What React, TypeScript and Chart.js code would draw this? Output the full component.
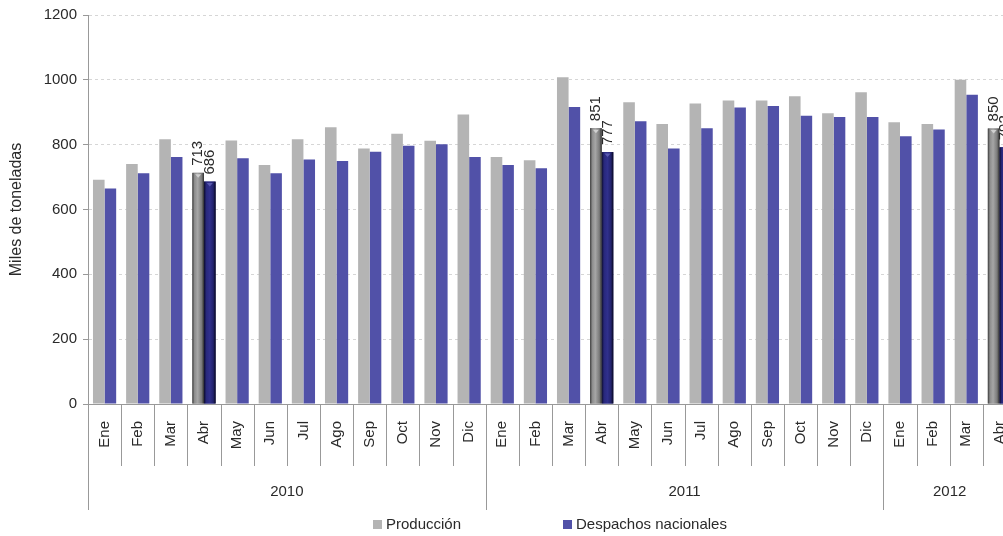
import React, { useEffect, useRef } from 'react';
import { Chart, registerables } from 'chart.js';

Chart.register(...registerables);

// ---- data ----
const monthLabels = [
  'Ene', 'Feb', 'Mar', 'Abr', 'May', 'Jun', 'Jul', 'Ago', 'Sep', 'Oct', 'Nov', 'Dic',
  'Ene', 'Feb', 'Mar', 'Abr', 'May', 'Jun', 'Jul', 'Ago', 'Sep', 'Oct', 'Nov', 'Dic',
  'Ene', 'Feb', 'Mar', 'Abr',
];
const yearLabels = ['2010', '2011', '2012'];
const yearMonthCounts = [12, 12, 4];

const produccion = [
  692, 740, 817, 713, 813, 737, 817, 854, 788, 834, 812, 893,
  762, 752, 1008, 851, 931, 864, 927, 936, 936, 949, 897, 962,
  869, 864, 1000, 850,
];
const despachos = [
  665, 712, 762, 686, 758, 712, 754, 750, 778, 797, 801, 762,
  737, 727, 916, 777, 872, 788, 851, 915, 919, 889, 885, 885,
  826, 847, 954, 792,
];
const highlightedIdx = [3, 15, 27];

const seriesNames = ['Producción', 'Despachos nacionales'];
const yAxisTitle = 'Miles de toneladas';
const yMin = 0;
const yMax = 1200;
const yStep = 200;

const FONT = '"Liberation Sans", Arial, sans-serif';
const GRAY = '#b4b4b4';
const BLUE = '#5151a8';
const TEXT = '#2a2a2a';
const AXIS = '#999999';

const decorPlugin = {
  id: 'decor',
  afterDatasetsDraw(chart: any) {
    const { ctx } = chart;
    ctx.save();
    [0, 1].forEach((di) => {
      const meta = chart.getDatasetMeta(di);
      highlightedIdx.forEach((i) => {
        const el = meta.data[i];
        if (!el) return;
        const { x, y, base, width } = el.getProps(['x', 'y', 'base', 'width'], true);
        const left = x - width / 2;
        const right = x + width / 2;
        const g = ctx.createLinearGradient(left, 0, right, 0);
        if (di === 0) {
          g.addColorStop(0, '#3a3a3a');
          g.addColorStop(0.18, '#8c8c8c');
          g.addColorStop(0.45, '#a6a6a6');
          g.addColorStop(0.8, '#7a7a7a');
          g.addColorStop(1, '#2e2e2e');
        } else {
          g.addColorStop(0, '#0c0c2c');
          g.addColorStop(0.2, '#28287c');
          g.addColorStop(0.5, '#30308c');
          g.addColorStop(0.8, '#22226c');
          g.addColorStop(1, '#07071c');
        }
        ctx.fillStyle = g;
        ctx.fillRect(left, y, width, base - y);
        // small top marker
        ctx.fillStyle = di === 0 ? '#d0d0d0' : '#5a5ab0';
        ctx.beginPath();
        ctx.moveTo(x - 3, y + 1.5);
        ctx.lineTo(x + 3, y + 1.5);
        ctx.lineTo(x, y + 5);
        ctx.closePath();
        ctx.fill();
        // value label
        const v = chart.data.datasets[di].data[i];
        ctx.save();
        ctx.translate(x, y - 7);
        ctx.rotate(-Math.PI / 2);
        ctx.font = `15px ${FONT}`;
        ctx.fillStyle = TEXT;
        ctx.textAlign = 'left';
        ctx.textBaseline = 'middle';
        ctx.fillText(String(v), 0, 0);
        ctx.restore();
      });
    });
    ctx.restore();
  },
  afterDraw(chart: any) {
    const { ctx, chartArea } = chart;
    const x = chart.scales.x;
    const bottom = chartArea.bottom;
    const n = monthLabels.length;
    const step = x.getPixelForValue(1) - x.getPixelForValue(0);
    const yearStarts = new Set<number>();
    let acc = 0;
    yearMonthCounts.forEach((c) => {
      yearStarts.add(acc);
      acc += c;
    });
    ctx.save();
    ctx.strokeStyle = AXIS;
    ctx.lineWidth = 1;
    for (let i = 0; i <= n; i++) {
      const bx = Math.round(x.getPixelForValue(i) - step / 2) + 0.5;
      const len = yearStarts.has(i) || i === n ? 106 : 62;
      ctx.beginPath();
      ctx.moveTo(bx, bottom);
      ctx.lineTo(bx, bottom + len);
      ctx.stroke();
    }
    // month labels
    ctx.font = `15px ${FONT}`;
    ctx.fillStyle = TEXT;
    for (let i = 0; i < n; i++) {
      ctx.save();
      ctx.translate(x.getPixelForValue(i), bottom + 17);
      ctx.rotate(-Math.PI / 2);
      ctx.textAlign = 'right';
      ctx.textBaseline = 'middle';
      ctx.fillText(monthLabels[i], 0, 0);
      ctx.restore();
    }
    // year labels
    ctx.textAlign = 'center';
    ctx.textBaseline = 'middle';
    let start = 0;
    yearLabels.forEach((yl, k) => {
      const end = start + yearMonthCounts[k] - 1;
      const cx = (x.getPixelForValue(start) + x.getPixelForValue(end)) / 2;
      ctx.fillText(yl, cx, bottom + 88);
      start = end + 1;
    });
    // legend
    const items = [
      { label: seriesNames[0], color: GRAY, bx: 373 },
      { label: seriesNames[1], color: BLUE, bx: 563 },
    ];
    ctx.textAlign = 'left';
    items.forEach((it) => {
      ctx.fillStyle = it.color;
      ctx.fillRect(it.bx, 520, 9, 9);
      ctx.fillStyle = TEXT;
      ctx.fillText(it.label, it.bx + 13, 525);
    });
    ctx.restore();
  },
};

export default function App() {
  const ref = useRef<HTMLCanvasElement | null>(null);
  useEffect(() => {
    if (!ref.current) return;
    const prodColors = produccion.map((_, i) => (highlightedIdx.includes(i) ? '#808080' : GRAY));
    const despColors = despachos.map((_, i) => (highlightedIdx.includes(i) ? '#2a2a80' : BLUE));
    const chart = new Chart(ref.current, {
      type: 'bar',
      data: {
        labels: monthLabels,
        datasets: [
          {
            label: seriesNames[0],
            data: produccion,
            backgroundColor: prodColors,
            borderWidth: 0,
            categoryPercentage: 0.7,
            barPercentage: 1,
          },
          {
            label: seriesNames[1],
            data: despachos,
            backgroundColor: despColors,
            borderWidth: 0,
            categoryPercentage: 0.7,
            barPercentage: 1,
          },
        ],
      },
      options: {
        responsive: false,
        animation: false,
        devicePixelRatio: 1,
        layout: { padding: { left: 0, right: 14, top: 15, bottom: 0 } },
        plugins: {
          legend: { display: false },
          tooltip: { enabled: false },
          title: { display: false },
        },
        scales: {
          x: {
            type: 'category',
            grid: { display: false },
            border: { display: true, color: AXIS, width: 1 },
            ticks: { display: false },
            afterFit: (s: any) => {
              s.height = 132;
            },
          },
          y: {
            min: yMin,
            max: yMax,
            ticks: {
              stepSize: yStep,
              color: TEXT,
              font: { family: FONT, size: 15 },
              padding: 6,
              callback: (v: any) => String(v),
            },
            grid: {
              color: '#d6d6d6',
              tickColor: AXIS,
              tickLength: 5,
              tickBorderDash: [],
            },
            border: { display: true, color: AXIS, width: 1, dash: [3, 3] },
            title: {
              display: true,
              text: yAxisTitle,
              color: TEXT,
              font: { family: FONT, size: 16 },
              padding: { top: 7, bottom: 0 },
            },
            afterFit: (s: any) => {
              s.width = 88;
            },
          },
        },
      },
      plugins: [decorPlugin],
    });
    return () => chart.destroy();
  }, []);

  return (
    <div
      style={{
        position: 'absolute',
        left: 0,
        top: 0,
        width: 1003,
        height: 536,
        overflow: 'hidden',
        background: '#fff',
      }}
    >
      <canvas ref={ref} width={1030} height={536} style={{ width: 1030, height: 536, display: 'block' }} />
    </div>
  );
}
